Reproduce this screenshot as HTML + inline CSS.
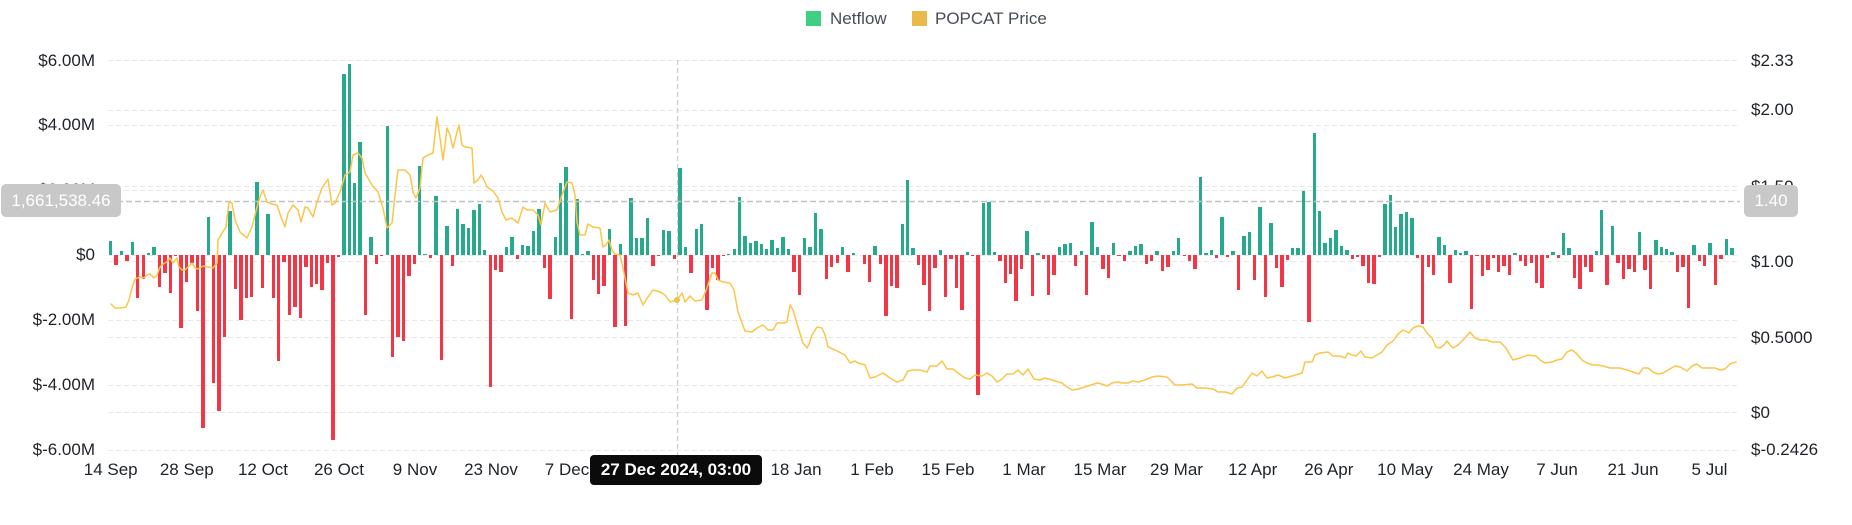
<!DOCTYPE html>
<html><head><meta charset="utf-8">
<style>
html,body{margin:0;padding:0;background:#fff;}
body{width:1852px;height:525px;position:relative;overflow:hidden;font-family:"Liberation Sans",Arial,sans-serif;}
svg{position:absolute;left:0;top:0;}
#b{position:absolute;left:107.98px;top:255.25px;height:0;display:flex;align-items:flex-start;z-index:2;}
#b i{flex:0 0 auto;width:3.4px;margin:0 1.019px;display:block;}
#b .g{background:#27aa8b;height:calc(var(--h)*1px);margin-top:calc(var(--h)*-1px);}
#b .r{background:#f23645;height:calc(var(--h)*1px);}
.t{position:absolute;font-size:17px;color:#1e2329;line-height:20px;white-space:nowrap;}
.l{right:1757px;transform:translateY(-50%);}
.rr{left:1751px;transform:translateY(-50%);}
.x{transform:translate(-50%,-50%);}
.lg{position:absolute;font-size:17px;color:#474d57;line-height:20px;top:9px;white-space:nowrap;}
.sq{position:absolute;width:15px;height:15px;top:11px;}
.box{position:absolute;background:#c8c8c8;border-radius:5px;color:#fff;font-size:17px;line-height:20px;display:flex;align-items:center;justify-content:center;z-index:5;}
#tip{position:absolute;left:590px;top:455px;width:172px;height:30px;background:#0b0b0b;border-radius:4px;color:#fff;font-size:17px;font-weight:bold;display:flex;align-items:center;justify-content:center;z-index:6;}
</style></head><body>

<svg width="1852" height="525" style="z-index:1">
<g stroke="#e8e8e8" stroke-width="1" stroke-dasharray="5 3" fill="none">
<line x1="108" x2="1740" y1="60.5" y2="60.5"/>
<line x1="108" x2="1740" y1="110.5" y2="110.5"/>
<line x1="108" x2="1740" y1="125.5" y2="125.5"/>
<line x1="108" x2="1740" y1="186.5" y2="186.5"/>
<line x1="108" x2="1740" y1="190.5" y2="190.5"/>
<line x1="108" x2="1740" y1="255.5" y2="255.5"/>
<line x1="108" x2="1740" y1="261.5" y2="261.5"/>
<line x1="108" x2="1740" y1="320.5" y2="320.5"/>
<line x1="108" x2="1740" y1="337.5" y2="337.5"/>
<line x1="108" x2="1740" y1="385.5" y2="385.5"/>
<line x1="108" x2="1740" y1="412.5" y2="412.5"/>
<line x1="108" x2="1740" y1="450.5" y2="450.5"/>
</g>
</svg>

<div id="b">
<i class=g style=--h:14></i><i class=r style=--h:10></i><i class=g style=--h:4></i><i class=r style=--h:5.7></i><i class=g style=--h:13.3></i><i class=r style=--h:43></i><i class=r style=--h:24></i><i class=g style=--h:2.7></i><i class=g style=--h:8></i><i class=r style=--h:32></i>
<i class=r style=--h:18></i><i class=r style=--h:38></i><i class=r style=--h:1></i><i class=r style=--h:73></i><i class=r style=--h:27></i><i class=r style=--h:8></i><i class=r style=--h:56></i><i class=r style=--h:173></i><i class=g style=--h:38></i><i class=r style=--h:128></i>
<i class=r style=--h:156></i><i class=r style=--h:82></i><i class=g style=--h:44></i><i class=r style=--h:34></i><i class=r style=--h:65></i><i class=r style=--h:43></i><i class=r style=--h:42></i><i class=g style=--h:73></i><i class=r style=--h:33></i><i class=g style=--h:41></i>
<i class=r style=--h:43></i><i class=r style=--h:106></i><i class=r style=--h:7></i><i class=r style=--h:60></i><i class=r style=--h:52></i><i class=r style=--h:63></i><i class=r style=--h:12></i><i class=r style=--h:32></i><i class=r style=--h:29></i><i class=r style=--h:35></i>
<i class=r style=--h:8></i><i class=r style=--h:185></i><i class=r style=--h:2></i><i class=g style=--h:181></i><i class=g style=--h:191></i><i class=g style=--h:72></i><i class=g style=--h:113></i><i class=r style=--h:60></i><i class=g style=--h:18></i><i class=r style=--h:9></i>
<i class=r style=--h:1></i><i class=g style=--h:129></i><i class=r style=--h:102></i><i class=r style=--h:82></i><i class=r style=--h:86></i><i class=r style=--h:21></i><i class=r style=--h:9></i><i class=g style=--h:89></i><i class=g style=--h:1></i><i class=r style=--h:3></i>
<i class=g style=--h:59></i><i class=r style=--h:105></i><i class=g style=--h:29></i><i class=r style=--h:11></i><i class=g style=--h:46></i><i class=g style=--h:31></i><i class=g style=--h:27></i><i class=g style=--h:45></i><i class=g style=--h:51></i><i class=g style=--h:5></i>
<i class=r style=--h:132></i><i class=r style=--h:15></i><i class=r style=--h:17></i><i class=g style=--h:8></i><i class=g style=--h:18></i><i class=r style=--h:4></i><i class=g style=--h:10></i><i class=g style=--h:9></i><i class=g style=--h:24></i><i class=g style=--h:46></i>
<i class=r style=--h:13></i><i class=r style=--h:44></i><i class=g style=--h:18></i><i class=g style=--h:72></i><i class=g style=--h:88></i><i class=r style=--h:64></i><i class=g style=--h:56></i><i class=g style=--h:1></i><i class=g style=--h:4></i><i class=r style=--h:25></i>
<i class=r style=--h:39></i><i class=r style=--h:31></i><i class=g style=--h:26></i><i class=r style=--h:72></i><i class=g style=--h:11></i><i class=r style=--h:71></i><i class=g style=--h:57></i><i class=g style=--h:17></i><i class=g style=--h:17></i><i class=g style=--h:37></i>
<i class=r style=--h:11></i><i class=r style=--h:1></i><i class=g style=--h:25></i><i class=g style=--h:24></i><i class=r style=--h:4></i><i class=g style=--h:87></i><i class=g style=--h:8></i><i class=r style=--h:18></i><i class=g style=--h:26></i><i class=g style=--h:31></i>
<i class=r style=--h:55></i><i class=r style=--h:13></i><i class=r style=--h:25></i><i class=r style=--h:1></i><i class=g style=--h:1></i><i class=g style=--h:6></i><i class=g style=--h:58></i><i class=g style=--h:19></i><i class=g style=--h:12></i><i class=g style=--h:14></i>
<i class=g style=--h:11></i><i class=g style=--h:6></i><i class=g style=--h:15></i><i class=g style=--h:7></i><i class=g style=--h:18></i><i class=g style=--h:6></i><i class=r style=--h:17></i><i class=r style=--h:40></i><i class=g style=--h:17></i><i class=g style=--h:8></i>
<i class=g style=--h:42></i><i class=g style=--h:26></i><i class=r style=--h:24></i><i class=r style=--h:12></i><i class=r style=--h:8></i><i class=g style=--h:8></i><i class=r style=--h:17></i><i class=g style=--h:2></i><i class=g style=--h:0></i><i class=r style=--h:9></i>
<i class=r style=--h:27></i><i class=g style=--h:9></i><i class=r style=--h:9></i><i class=r style=--h:61></i><i class=r style=--h:31></i><i class=r style=--h:33></i><i class=g style=--h:31></i><i class=g style=--h:75></i><i class=g style=--h:7></i><i class=r style=--h:10></i>
<i class=r style=--h:30></i><i class=r style=--h:56></i><i class=r style=--h:13></i><i class=g style=--h:5></i><i class=r style=--h:42></i><i class=r style=--h:4></i><i class=r style=--h:33></i><i class=r style=--h:55></i><i class=g style=--h:3></i><i class=r style=--h:1></i>
<i class=r style=--h:140></i><i class=g style=--h:52></i><i class=g style=--h:53></i><i class=g style=--h:3></i><i class=r style=--h:6></i><i class=r style=--h:28></i><i class=r style=--h:19></i><i class=r style=--h:46></i><i class=r style=--h:14></i><i class=g style=--h:24></i>
<i class=r style=--h:41></i><i class=g style=--h:2></i><i class=r style=--h:4></i><i class=r style=--h:40></i><i class=r style=--h:20></i><i class=g style=--h:8></i><i class=g style=--h:11></i><i class=g style=--h:12></i><i class=r style=--h:11></i><i class=g style=--h:4></i>
<i class=r style=--h:40></i><i class=g style=--h:33></i><i class=g style=--h:8></i><i class=r style=--h:14></i><i class=r style=--h:23></i><i class=g style=--h:12></i><i class=r style=--h:1></i><i class=r style=--h:6></i><i class=g style=--h:4></i><i class=g style=--h:9></i>
<i class=g style=--h:11></i><i class=r style=--h:9></i><i class=r style=--h:6></i><i class=g style=--h:4></i><i class=r style=--h:16></i><i class=r style=--h:12></i><i class=g style=--h:4></i><i class=g style=--h:17></i><i class=r style=--h:1></i><i class=r style=--h:6></i>
<i class=r style=--h:14></i><i class=g style=--h:78></i><i class=g style=--h:2></i><i class=g style=--h:5></i><i class=r style=--h:3></i><i class=g style=--h:38></i><i class=r style=--h:2></i><i class=g style=--h:4></i><i class=r style=--h:35></i><i class=g style=--h:19></i>
<i class=g style=--h:23></i><i class=r style=--h:25></i><i class=g style=--h:48></i><i class=r style=--h:42></i><i class=g style=--h:32></i><i class=r style=--h:13></i><i class=r style=--h:32></i><i class=r style=--h:5></i><i class=g style=--h:7></i><i class=g style=--h:7></i>
<i class=g style=--h:64></i><i class=r style=--h:67></i><i class=g style=--h:122></i><i class=g style=--h:44></i><i class=g style=--h:12></i><i class=g style=--h:17></i><i class=g style=--h:25></i><i class=g style=--h:9></i><i class=g style=--h:5></i><i class=r style=--h:4></i>
<i class=r style=--h:2></i><i class=r style=--h:11></i><i class=r style=--h:28></i><i class=r style=--h:29></i><i class=r style=--h:2></i><i class=g style=--h:51></i><i class=g style=--h:60></i><i class=g style=--h:28></i><i class=g style=--h:41></i><i class=g style=--h:43></i>
<i class=g style=--h:37></i><i class=r style=--h:3></i><i class=r style=--h:69></i><i class=r style=--h:12></i><i class=r style=--h:20></i><i class=g style=--h:18></i><i class=g style=--h:10></i><i class=r style=--h:28></i><i class=g style=--h:5></i><i class=g style=--h:2></i>
<i class=g style=--h:4></i><i class=r style=--h:54></i><i class=r style=--h:1></i><i class=r style=--h:21></i><i class=r style=--h:15></i><i class=r style=--h:3></i><i class=r style=--h:17></i><i class=r style=--h:11></i><i class=r style=--h:20></i><i class=g style=--h:2></i>
<i class=r style=--h:6></i><i class=r style=--h:11></i><i class=r style=--h:8></i><i class=r style=--h:28></i><i class=r style=--h:33></i><i class=r style=--h:3></i><i class=g style=--h:3></i><i class=r style=--h:3></i><i class=g style=--h:22></i><i class=g style=--h:7></i>
<i class=r style=--h:23></i><i class=r style=--h:34></i><i class=r style=--h:12></i><i class=r style=--h:17></i><i class=g style=--h:4></i><i class=g style=--h:45></i><i class=r style=--h:30></i><i class=g style=--h:29></i><i class=r style=--h:8></i><i class=r style=--h:24></i>
<i class=r style=--h:14></i><i class=r style=--h:17></i><i class=g style=--h:23></i><i class=r style=--h:15></i><i class=r style=--h:34></i><i class=g style=--h:15></i><i class=g style=--h:8></i><i class=g style=--h:6></i><i class=g style=--h:3></i><i class=r style=--h:17></i>
<i class=r style=--h:12></i><i class=r style=--h:53></i><i class=g style=--h:10></i><i class=r style=--h:6></i><i class=r style=--h:11></i><i class=g style=--h:12></i><i class=r style=--h:30></i><i class=r style=--h:4></i><i class=g style=--h:16></i><i class=g style=--h:7></i>
</div>

<svg width="1852" height="525" style="z-index:3">
<line x1="677.5" x2="677.5" y1="60" y2="455" stroke="#cdcdcd" stroke-width="1.2" stroke-dasharray="5 3"/>
<line x1="108" x2="1740" y1="201.5" y2="201.5" stroke="#c2c2c2" stroke-width="1.4" stroke-dasharray="6 3"/>
<polyline fill="none" stroke="#fbc54a" stroke-width="1.5" stroke-linejoin="round" stroke-linecap="round" points="111,304 115,308 120,308 126,307 129,300 132,288 135,279 140,277 144,278 147,275 150,274 154,278 157,275 160,267 163,264 167,262 170,258 173,263 177,258 179,267 182,270 185,270 188,267 192,263 195,268 198,269 203,266 208,267 213,268 217,263 218,240 222,233 226,227 229,202 232,203 235,220 240,232 247,238 252,227 257,207 260,197 263,190 267,202 272,204 277,205 282,220 285,227 288,213 293,205 298,210 301,222 305,207 308,208 313,217 317,202 322,188 328,179 332,205 335,203 340,192 345,175 350,172 353,155 358,153 362,158 365,173 372,185 378,192 383,208 387,228 392,223 395,195 398,170 405,170 410,175 413,192 416,198 420,188 423,158 428,155 433,153 437,117 440,138 443,160 445,145 447,128 450,135 453,148 457,132 459,125 462,145 465,147 472,148 474,183 478,180 481,175 484,180 487,187 493,191 498,198 502,212 506,220 512,218 518,223 523,207 527,210 533,210 538,215 541,225 545,203 550,212 557,210 562,195 567,182 572,183 575,195 577,222 580,235 585,235 588,224 593,227 600,228 603,247 606,245 609,240 612,250 615,254 620,255 623,268 628,293 633,295 638,293 643,305 648,297 653,290 660,292 665,295 670,302 677,300 682,293 685,302 690,296 695,301 702,300 707,288 712,273 715,273 718,280 723,282 730,283 734,290 738,312 745,331 752,332 757,328 763,325 768,330 773,330 777,323 783,323 787,322 790,305 793,310 798,327 803,343 807,348 809,344 812,335 817,327 822,328 825,335 828,347 835,350 845,355 850,363 855,361 858,363 865,365 870,378 875,377 883,373 890,378 897,382 903,380 908,371 913,370 920,370 927,372 930,366 937,366 942,361 947,369 953,369 958,373 965,378 970,379 975,375 982,376 987,373 992,376 997,382 1002,379 1007,374 1013,374 1018,370 1023,375 1028,369 1034,379 1040,380 1045,378 1052,380 1062,383 1067,387 1072,390 1078,389 1088,386 1097,383 1102,384 1107,386 1112,383 1118,382 1122,383 1128,383 1133,381 1138,382 1145,380 1152,377 1158,376 1167,377 1170,380 1175,385 1182,385 1192,384 1197,388 1205,388 1213,389 1218,392 1225,392 1232,394 1237,388 1242,387 1247,380 1252,373 1257,376 1262,371 1267,378 1272,377 1278,375 1285,378 1292,376 1302,373 1305,362 1312,362 1315,355 1320,353 1328,352 1333,356 1340,356 1345,358 1348,353 1352,355 1356,356 1361,351 1365,357 1372,358 1377,355 1382,352 1387,345 1393,341 1398,334 1403,330 1409,333 1413,328 1418,326 1423,327 1427,333 1432,338 1436,347 1440,348 1444,345 1447,341 1451,346 1453,348 1458,345 1465,338 1470,332 1475,338 1480,340 1487,340 1492,342 1500,342 1506,348 1510,355 1513,360 1520,358 1528,355 1536,356 1540,360 1545,363 1552,362 1557,360 1562,359 1567,352 1572,350 1576,353 1582,360 1587,363 1593,365 1598,365 1603,366 1610,368 1615,368 1620,368 1627,370 1633,372 1639,374 1643,368 1648,368 1653,372 1658,374 1663,373 1668,370 1675,366 1680,367 1687,371 1692,366 1697,364 1702,368 1708,368 1715,368 1720,370 1725,369 1730,364 1736,362"/>
<circle cx="677" cy="300" r="3" fill="#f2c04a"/>
</svg>

<!-- legend -->
<div class="sq" style="left:806px;background:#3ecf84;"></div>
<div class="lg" style="left:830px;">Netflow</div>
<div class="sq" style="left:912px;background:#ebb84a;"></div>
<div class="lg" style="left:935px;">POPCAT Price</div>

<!-- left axis -->
<div class="t l" style="top:60.5px">$6.00M</div>
<div class="t l" style="top:125.4px">$4.00M</div>
<div class="t l" style="top:190.3px">$2.00M</div>
<div class="t l" style="top:255.2px">$0</div>
<div class="t l" style="top:320.2px">$-2.00M</div>
<div class="t l" style="top:385.1px">$-4.00M</div>
<div class="t l" style="top:450px">$-6.00M</div>

<!-- right axis -->
<div class="t rr" style="top:60.5px">$2.33</div>
<div class="t rr" style="top:110.3px">$2.00</div>
<div class="t rr" style="top:186.7px">$1.50</div>
<div class="t rr" style="top:261.5px">$1.00</div>
<div class="t rr" style="top:337.7px">$0.5000</div>
<div class="t rr" style="top:412.7px">$0</div>
<div class="t rr" style="top:450px">$-0.2426</div>

<!-- x axis -->
<div class="t x" style="left:110.7px;top:470px">14 Sep</div>
<div class="t x" style="left:186.8px;top:470px">28 Sep</div>
<div class="t x" style="left:263px;top:470px">12 Oct</div>
<div class="t x" style="left:339px;top:470px">26 Oct</div>
<div class="t x" style="left:415px;top:470px">9 Nov</div>
<div class="t x" style="left:491px;top:470px">23 Nov</div>
<div class="t x" style="left:567px;top:470px">7 Dec</div>
<div class="t x" style="left:796px;top:470px">18 Jan</div>
<div class="t x" style="left:872px;top:470px">1 Feb</div>
<div class="t x" style="left:948px;top:470px">15 Feb</div>
<div class="t x" style="left:1024px;top:470px">1 Mar</div>
<div class="t x" style="left:1100px;top:470px">15 Mar</div>
<div class="t x" style="left:1176.5px;top:470px">29 Mar</div>
<div class="t x" style="left:1252.7px;top:470px">12 Apr</div>
<div class="t x" style="left:1328.8px;top:470px">26 Apr</div>
<div class="t x" style="left:1405px;top:470px">10 May</div>
<div class="t x" style="left:1481px;top:470px">24 May</div>
<div class="t x" style="left:1557px;top:470px">7 Jun</div>
<div class="t x" style="left:1633px;top:470px">21 Jun</div>
<div class="t x" style="left:1709.5px;top:470px">5 Jul</div>

<!-- crosshair labels -->
<div class="box" style="left:1px;top:184px;width:120px;height:33px;">1,661,538.46</div>
<div class="box" style="left:1744px;top:185px;width:54px;height:32px;">1.40</div>
<div id="tip">27 Dec 2024, 03:00</div>

</body></html>
